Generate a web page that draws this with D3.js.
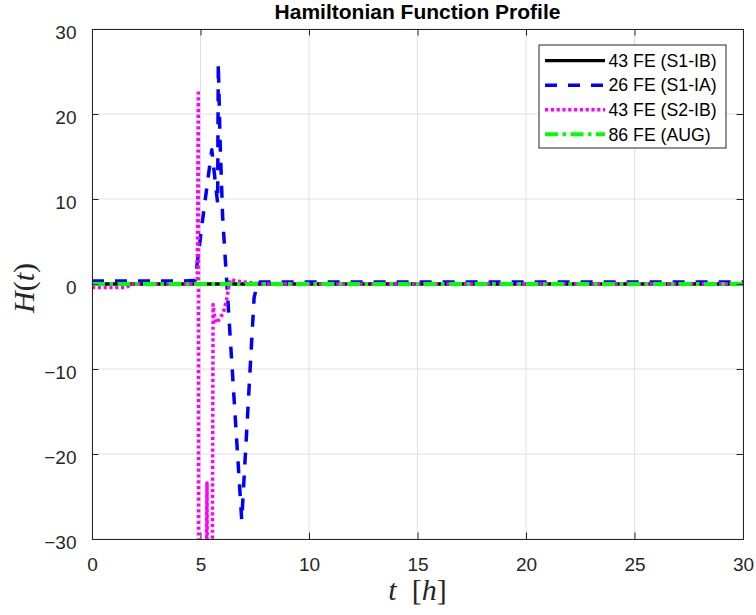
<!DOCTYPE html>
<html>
<head>
<meta charset="utf-8">
<script src="https://cdn.jsdelivr.net/npm/d3@7"></script>
<style>
  html, body { margin: 0; padding: 0; background: #ffffff; }
  svg { display: block; }
</style>
</head>
<body>
<div id="chart"></div>
<script>
// ---------------- data ----------------
const xTicks = [0, 5, 10, 15, 20, 25, 30];
const yTicks = [-30, -20, -10, 0, 10, 20, 30];

const seriesNames = ["43 FE (S1-IB)", "26 FE (S1-IA)", "43 FE (S2-IB)", "86 FE (AUG)"];

// 43 FE (S1-IB) : flat at zero
const tS1IB = [0, 5, 10, 15, 20, 25, 30];
const hS1IB = [0, 0, 0, 0, 0, 0, 0];

// 26 FE (S1-IA)
const tS1IA = [0, 2, 4, 4.75, 5.12, 5.52, 5.67, 5.79, 5.82, 5.9, 6.02, 6.9, 7.47, 7.65, 10, 15, 20, 25, 30];
const hS1IA = [0.35, 0.35, 0.35, 0.4, 8.0, 15.8, 12.3, 9.5, 26.0, 17.0, 7.9, -27.8, -1.6, 0.25, 0.25, 0.25, 0.25, 0.25, 0.25];

// 43 FE (S2-IB)  (values below -30 are off the axis, estimated)
const tS2IB = [0, 0.8, 1.6, 1.8, 3, 4.85, 4.9, 4.93, 5.3, 5.42, 5.58, 5.67, 5.75, 5.9, 6.05, 6.2, 6.36, 6.8, 7.5, 8, 10, 15, 20, 25, 30];
const hS2IB = [-0.4, -0.4, -0.4, 0, 0, 0, 22.8, -150, -23.4, -150, -2.4, -4.2, -4.6, -4.0, -3.4, -1.9, 0.5, 0.3, 0.1, 0, 0, 0, 0, 0, 0];

// 86 FE (AUG) : flat at zero
const tAUG = [0, 5, 10, 15, 20, 25, 30];
const hAUG = [0, 0, 0, 0, 0, 0, 0];

// ---------------- layout ----------------
const W = 756, H = 615;
const plot = { left: 92, right: 743, top: 29, bottom: 539 };

const svg = d3.select("#chart").append("svg")
  .attr("width", W).attr("height", H)
  .attr("viewBox", `0 0 ${W} ${H}`);

const x = d3.scaleLinear().domain([0, 30]).range([plot.left, plot.right]);
const y = d3.scaleLinear().domain([-30, 30]).range([plot.bottom, plot.top]);

const axisColor = "#262626";
const gridColor = "#e0e0e0";
const tickFont = "'Liberation Sans', Arial, Helvetica, sans-serif";

// grid
const grid = svg.append("g");
grid.selectAll("line.gx").data(xTicks).join("line")
  .attr("x1", d => x(d)).attr("x2", d => x(d))
  .attr("y1", plot.top).attr("y2", plot.bottom)
  .attr("stroke", gridColor).attr("stroke-width", 1);
grid.selectAll("line.gy").data(yTicks).join("line")
  .attr("y1", d => y(d)).attr("y2", d => y(d))
  .attr("x1", plot.left).attr("x2", plot.right)
  .attr("stroke", gridColor).attr("stroke-width", 1);

// clip
svg.append("defs").append("clipPath").attr("id", "clip")
  .append("rect")
  .attr("x", plot.left).attr("y", plot.top)
  .attr("width", plot.right - plot.left).attr("height", plot.bottom - plot.top);

const styles = [
  { color: "#000000", width: 3.3, dash: null },
  { color: "#0000ff", width: 3.5, dash: "12,11" },
  { color: "#ff00ff", width: 3.5, dash: "3.2,2.6" },
  { color: "#00ff00", width: 4, dash: "13,4.5,3.5,4.5" }
];

const seriesData = [
  d3.zip(tS1IB, hS1IB),
  d3.zip(tS1IA, hS1IA),
  d3.zip(tS2IB, hS2IB),
  d3.zip(tAUG, hAUG)
];

const line = d3.line().x(d => x(d[0])).y(d => y(d[1]));

const lines = svg.append("g").attr("clip-path", "url(#clip)");
seriesData.forEach((data, i) => {
  const s = styles[i];
  lines.append("path")
    .attr("d", line(data))
    .attr("fill", "none")
    .attr("stroke", s.color)
    .attr("stroke-width", s.width)
    .attr("stroke-linejoin", "round")
    .attr("stroke-dasharray", s.dash);
});

// axes (box with inward ticks on all sides)
const tickLen = 6.5;
const xAxisB = d3.axisBottom(x).tickValues(xTicks).tickSize(-tickLen).tickPadding(tickLen + 7).tickFormat(d3.format("d"));
const xAxisT = d3.axisTop(x).tickValues(xTicks).tickSize(-tickLen).tickFormat("");
const yAxisL = d3.axisLeft(y).tickValues(yTicks).tickSize(-tickLen).tickPadding(tickLen + 9).tickFormat(d3.format("d"));
const yAxisR = d3.axisRight(y).tickValues(yTicks).tickSize(-tickLen).tickFormat("");

function styleAxis(g) {
  g.select(".domain").attr("stroke", axisColor).attr("stroke-width", 1);
  g.selectAll(".tick line").attr("stroke", axisColor).attr("stroke-width", 1);
  g.selectAll(".tick text").attr("fill", axisColor)
    .attr("font-family", tickFont).attr("font-size", 19);
}

const gxB = svg.append("g").attr("transform", `translate(0,${plot.bottom})`).call(xAxisB).call(styleAxis);
gxB.selectAll(".tick text").attr("dy", "0.95em");
svg.append("g").attr("transform", `translate(0,${plot.top})`).call(xAxisT).call(styleAxis);
const gyL = svg.append("g").attr("transform", `translate(${plot.left},0)`).call(yAxisL).call(styleAxis);
gyL.selectAll(".tick text").attr("dy", "0.49em");
svg.append("g").attr("transform", `translate(${plot.right},0)`).call(yAxisR).call(styleAxis);

// title
svg.append("text")
  .attr("x", (plot.left + plot.right) / 2).attr("y", 18.5)
  .attr("text-anchor", "middle")
  .attr("font-family", tickFont).attr("font-weight", "bold")
  .attr("font-size", 21).attr("fill", "#000")
  .text("Hamiltonian Function Profile");

// axis labels (LaTeX-like)
const serif = "'Liberation Serif', 'Times New Roman', 'DejaVu Serif', serif";
const xl = svg.append("text")
  .attr("x", (plot.left + plot.right) / 2).attr("y", 600)
  .attr("text-anchor", "middle")
  .attr("font-family", serif).attr("font-size", 30).attr("fill", axisColor)
  .attr("xml:space", "preserve");
xl.append("tspan").attr("font-style", "italic").text("t");
xl.append("tspan").text("  [");
xl.append("tspan").attr("font-style", "italic").text("h");
xl.append("tspan").text("]");

const yl = svg.append("text")
  .attr("transform", `translate(34,${(plot.top + plot.bottom) / 2 + 4}) rotate(-90)`)
  .attr("text-anchor", "middle")
  .attr("font-family", serif).attr("font-size", 30).attr("fill", axisColor);
yl.append("tspan").attr("font-style", "italic").text("H");
yl.append("tspan").text("(");
yl.append("tspan").attr("font-style", "italic").text("t");
yl.append("tspan").text(")");

// legend
const lg = { x: 539, y: 45, w: 187, h: 103 };
const legend = svg.append("g");
legend.append("rect")
  .attr("x", lg.x).attr("y", lg.y).attr("width", lg.w).attr("height", lg.h)
  .attr("fill", "#ffffff").attr("stroke", axisColor).attr("stroke-width", 1);
const rowY = d3.scaleLinear().domain([0, 3]).range([60.7, 134.3]);
seriesNames.forEach((name, i) => {
  const s = styles[i];
  const cy = rowY(i);
  legend.append("line")
    .attr("x1", 545).attr("x2", 605).attr("y1", cy).attr("y2", cy)
    .attr("stroke", s.color).attr("stroke-width", s.width)
    .attr("stroke-dasharray", s.dash);
  legend.append("text")
    .attr("x", 608.5).attr("y", cy + 6.2)
    .attr("font-family", tickFont).attr("font-size", 17.7).attr("fill", "#000")
    .text(name);
});
</script>
</body>
</html>
